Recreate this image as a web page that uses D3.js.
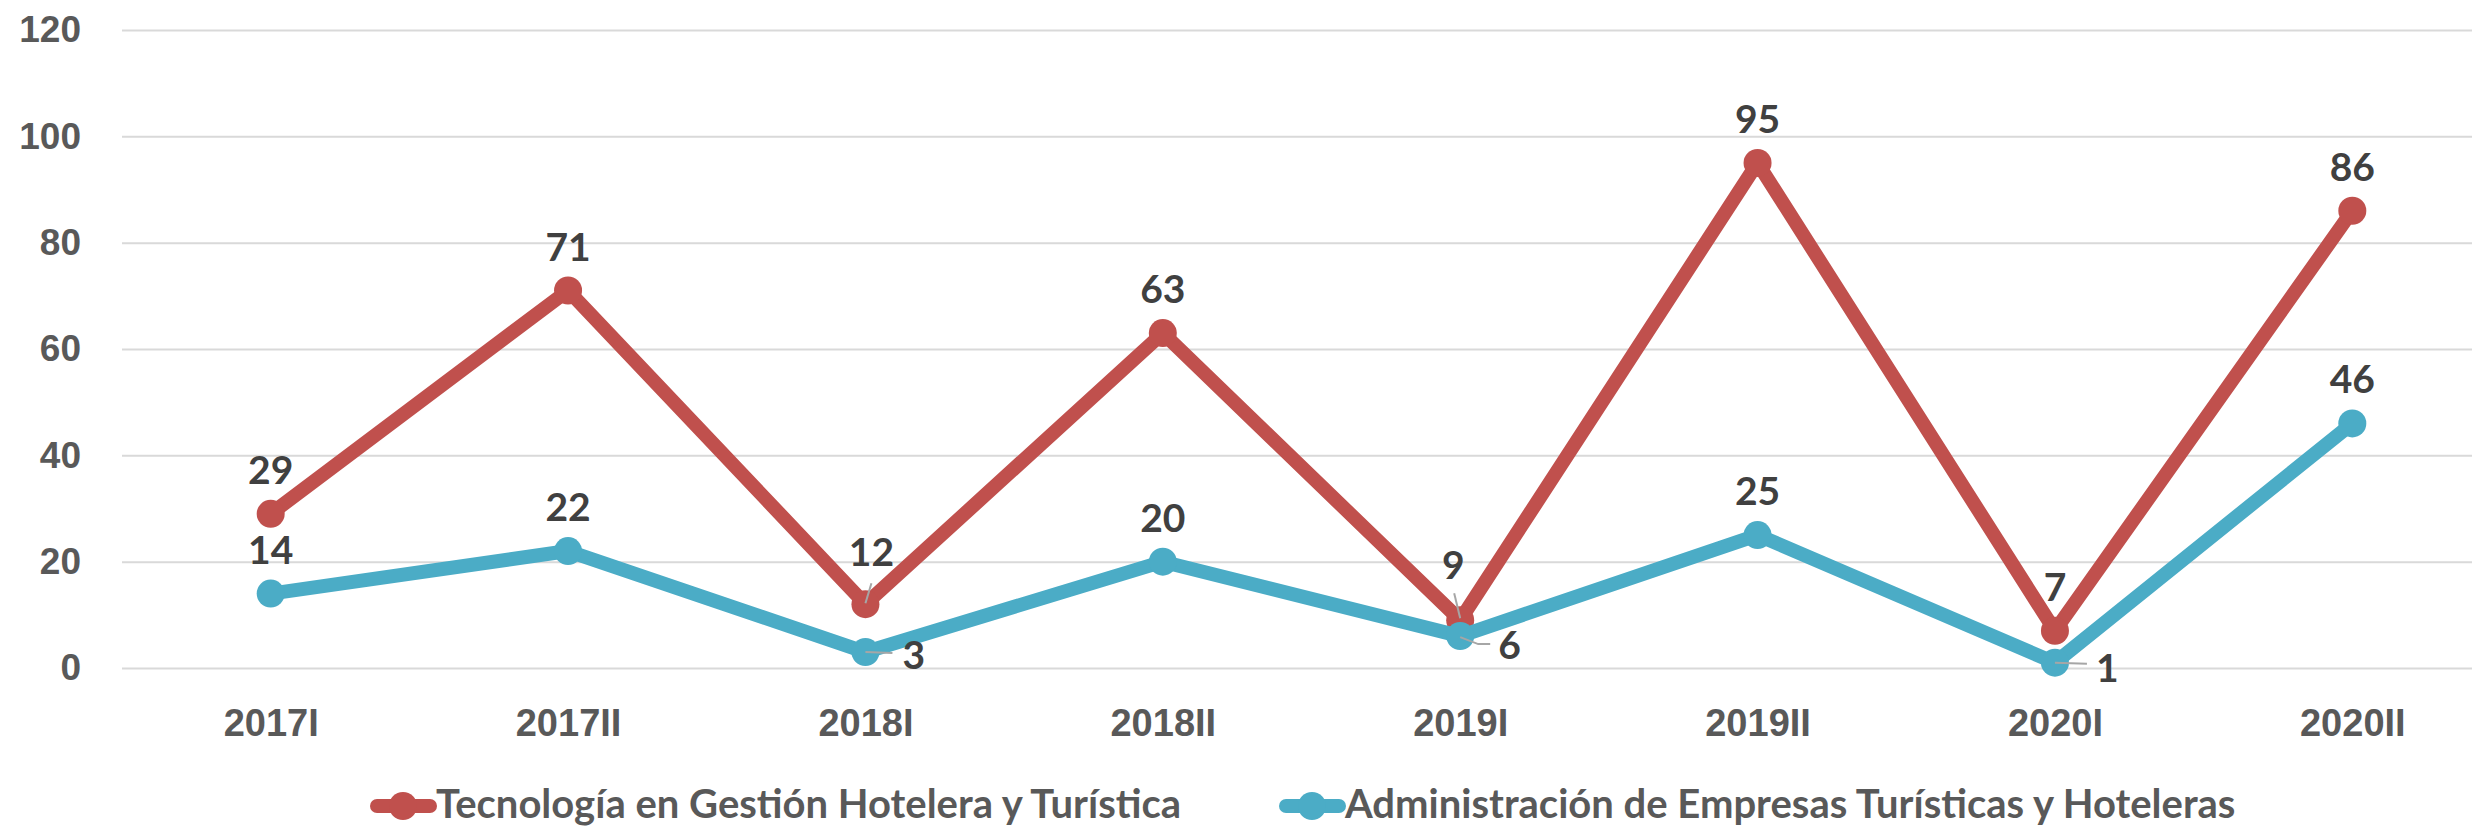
<!DOCTYPE html>
<html lang="es">
  <head>
    <meta charset="UTF-8" />
    <title>Tecnología vs Administración</title>
    <style>
      body {
        margin: 0;
        background: #fff;
      }
      svg {
        display: block;
        font-family: Lato, "Open Sans", sans-serif;
        font-weight: bold;
      }
      .tick-label {
        fill: #595959;
        font-size: 37px;
      }
      .x-label {
        fill: #595959;
        font-size: 38px;
      }
      .data-label {
        fill: #404040;
        font-size: 39px;
      }
      .legend-label {
        fill: #595959;
        font-size: 40px;
      }
      .leader {
        stroke: #a6a6a6;
        stroke-width: 2;
        fill: none;
      }
    </style>
  </head>
  <body>
    <script src="https://cdn.jsdelivr.net/npm/d3@7"></script>
    <script>
      // data
      const periods = ["2017I", "2017II", "2018I", "2018II", "2019I", "2019II", "2020I", "2020II"];
      const tecnologia = [29, 71, 12, 63, 9, 95, 7, 86];
      const administracion = [14, 22, 3, 20, 6, 25, 1, 46];
      const seriesNames = [
        "Tecnología en Gestión Hotelera y Turística",
        "Administración de Empresas Turísticas y Hoteleras"
      ];
      const yTicks = [0, 20, 40, 60, 80, 100, 120];

      const width = 2472;
      const height = 826;
      const plotLeft = 122;
      const plotRight = 2501; // last category band runs past the picture edge
      const plotTop = 30;
      const plotBottom = 668;
      const lineWidth = 14;
      const markerR = 14;
      const colors = ["#c0504d", "#4bacc6"];

      // label placement: default is centred above the point;
      // a few labels are moved by hand, like in the original, with a leader line
      const labelMoves = [
        { 2: { dx: 6, dy: -38, leader: [[0, -1], [6, -21]] },
          4: { dx: -7, dy: -41, leader: [[0, -2], [-6, -27]] } },
        { 2: { dx: 37, dy: 17, anchor: "start", leader: [[0, 0], [27, 1]] },
          4: { dx: 38, dy: 23, anchor: "start", leader: [[0, 1], [18, 8], [30, 8]] },
          6: { dx: 41, dy: 19, anchor: "start", leader: [[0, 0], [32, 1]] } }
      ];

      const x = d3.scalePoint().domain(periods).range([plotLeft, plotRight]).padding(0.5);
      const y = d3.scaleLinear().domain([0, 120]).range([plotBottom, plotTop]);

      const svg = d3.select("body").append("svg")
        .attr("width", width)
        .attr("height", height);

      // y axis with gridlines
      const gy = svg.append("g")
        .attr("transform", `translate(${plotLeft},0)`)
        .call(d3.axisLeft(y).tickValues(yTicks).tickSize(-(width - plotLeft)).tickPadding(41));
      gy.select(".domain").remove();
      gy.selectAll(".tick line").attr("stroke", "#d9d9d9").attr("stroke-width", 2);
      gy.selectAll(".tick text").attr("class", "tick-label").attr("fill", null)
        .attr("font-size", null).attr("font-family", null);

      // x axis
      const gx = svg.append("g")
        .attr("transform", `translate(0,${plotBottom})`)
        .call(d3.axisBottom(x).tickSize(0).tickPadding(41));
      gx.select(".domain").remove();
      gx.selectAll(".tick text").attr("class", "x-label").attr("fill", null)
        .attr("font-size", null).attr("font-family", null);

      const allSeries = [tecnologia, administracion];
      const line = d3.line().x((d, i) => x(periods[i])).y(d => y(d));

      allSeries.forEach((vals, s) => {
        const g = svg.append("g");
        g.append("path")
          .datum(vals)
          .attr("d", line)
          .attr("fill", "none")
          .attr("stroke", colors[s])
          .attr("stroke-width", lineWidth)
          .attr("stroke-linejoin", "round");
        g.selectAll("circle")
          .data(vals)
          .join("circle")
          .attr("cx", (d, i) => x(periods[i]))
          .attr("cy", d => y(d))
          .attr("r", markerR)
          .attr("fill", colors[s]);
      });

      // leader lines and data labels on top
      const gLabels = svg.append("g");
      allSeries.forEach((vals, s) => {
        vals.forEach((v, i) => {
          const px = x(periods[i]);
          const py = y(v);
          const mv = labelMoves[s][i];
          if (mv && mv.leader) {
            gLabels.append("polyline")
              .attr("class", "leader")
              .attr("points", mv.leader.map(p => `${px + p[0]},${py + p[1]}`).join(" "));
          }
          gLabels.append("text")
            .attr("class", "data-label")
            .attr("x", px + (mv ? mv.dx : 0))
            .attr("y", py + (mv ? mv.dy : -30))
            .attr("text-anchor", mv && mv.anchor ? mv.anchor : "middle")
            .text(v);
        });
      });

      // legend
      const legendX = [370, 1279];
      const legendY = 806;
      seriesNames.forEach((name, s) => {
        const g = svg.append("g").attr("transform", `translate(${legendX[s]},${legendY})`);
        g.append("line")
          .attr("x1", 7).attr("x2", 60)
          .attr("y1", 0).attr("y2", 0)
          .attr("stroke", colors[s])
          .attr("stroke-width", lineWidth)
          .attr("stroke-linecap", "round");
        g.append("circle").attr("cx", 33).attr("cy", 0).attr("r", markerR).attr("fill", colors[s]);
        g.append("text")
          .attr("class", "legend-label")
          .attr("x", 66)
          .attr("y", 12)
          .text(name);
      });
    </script>
  </body>
</html>
